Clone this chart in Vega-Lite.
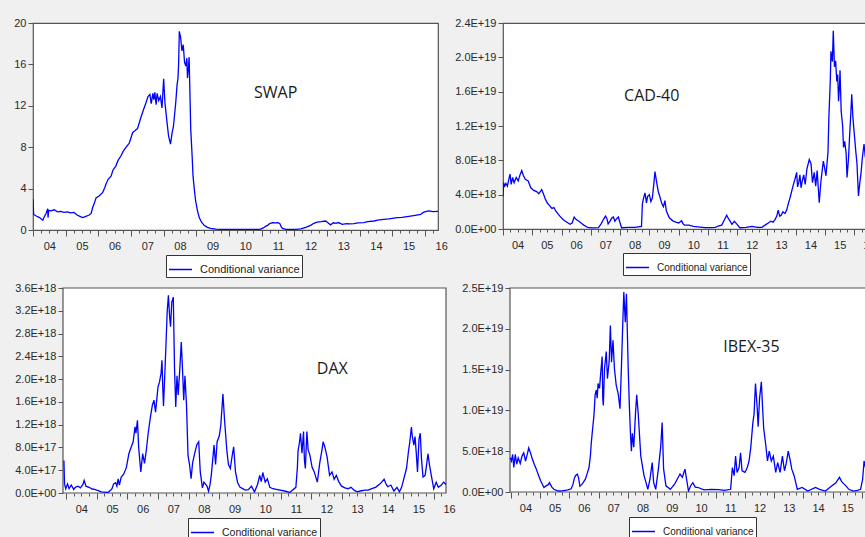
{
  "$schema": "https://vega.github.io/schema/vega-lite/v6.json",
  "padding": {"left": 13, "top": 16, "right": 0, "bottom": 0},
  "background": "#f0f0f0",
  "columns": 2,
  "align": "each",
  "spacing": {"row": 3, "column": -2},
  "resolve": {"scale": {"color": "independent"}, "legend": {"color": "independent"}},
  "datasets": {
    "swap": [
      {"t":2004.0,"v":3.0},{"t":2004.02,"v":1.5},{"t":2004.1,"v":1.35},{"t":2004.2,"v":1.2},{"t":2004.3,"v":0.95},{"t":2004.35,"v":1.3},{"t":2004.4,"v":1.6},{"t":2004.45,"v":2.05},{"t":2004.46,"v":1.2},{"t":2004.48,"v":1.9},{"t":2004.55,"v":1.85},{"t":2004.65,"v":1.95},{"t":2004.75,"v":1.75},{"t":2004.85,"v":1.8},{"t":2004.95,"v":1.7},{"t":2005.05,"v":1.75},{"t":2005.15,"v":1.65},{"t":2005.25,"v":1.7},{"t":2005.35,"v":1.45},{"t":2005.45,"v":1.3},{"t":2005.52,"v":1.2},{"t":2005.6,"v":1.3},{"t":2005.72,"v":1.45},{"t":2005.78,"v":1.6},{"t":2005.82,"v":2.1},{"t":2005.88,"v":2.6},{"t":2005.93,"v":3.1},{"t":2006.03,"v":3.3},{"t":2006.13,"v":3.6},{"t":2006.2,"v":4.1},{"t":2006.23,"v":4.4},{"t":2006.3,"v":4.9},{"t":2006.39,"v":5.2},{"t":2006.45,"v":5.8},{"t":2006.54,"v":6.2},{"t":2006.6,"v":6.7},{"t":2006.69,"v":7.15},{"t":2006.76,"v":7.6},{"t":2006.84,"v":7.95},{"t":2006.9,"v":8.2},{"t":2006.95,"v":8.4},{"t":2007.05,"v":9.4},{"t":2007.12,"v":9.6},{"t":2007.2,"v":9.8},{"t":2007.3,"v":10.85},{"t":2007.38,"v":11.6},{"t":2007.46,"v":12.3},{"t":2007.52,"v":12.9},{"t":2007.58,"v":13.1},{"t":2007.62,"v":12.2},{"t":2007.67,"v":13.2},{"t":2007.7,"v":12.6},{"t":2007.73,"v":13.3},{"t":2007.77,"v":12.1},{"t":2007.8,"v":13.2},{"t":2007.85,"v":12.5},{"t":2007.9,"v":12.9},{"t":2007.95,"v":11.8},{"t":2008.0,"v":14.6},{"t":2008.04,"v":12.3},{"t":2008.1,"v":10.5},{"t":2008.15,"v":9.1},{"t":2008.21,"v":8.3},{"t":2008.26,"v":9.4},{"t":2008.3,"v":10.0},{"t":2008.37,"v":12.3},{"t":2008.41,"v":14.0},{"t":2008.44,"v":14.7},{"t":2008.46,"v":16.2},{"t":2008.48,"v":19.2},{"t":2008.52,"v":18.6},{"t":2008.56,"v":17.3},{"t":2008.6,"v":17.9},{"t":2008.64,"v":16.2},{"t":2008.68,"v":15.85},{"t":2008.71,"v":16.6},{"t":2008.73,"v":14.7},{"t":2008.76,"v":15.7},{"t":2008.78,"v":16.7},{"t":2008.81,"v":12.5},{"t":2008.83,"v":9.7},{"t":2008.87,"v":7.3},{"t":2008.9,"v":5.2},{"t":2008.94,"v":3.9},{"t":2008.98,"v":2.8},{"t":2009.04,"v":1.8},{"t":2009.09,"v":1.2},{"t":2009.16,"v":0.75},{"t":2009.24,"v":0.45},{"t":2009.34,"v":0.25},{"t":2009.44,"v":0.16},{"t":2009.6,"v":0.08},{"t":2009.8,"v":0.05},{"t":2010.2,"v":0.05},{"t":2010.6,"v":0.05},{"t":2010.95,"v":0.07},{"t":2011.05,"v":0.2},{"t":2011.12,"v":0.35},{"t":2011.18,"v":0.45},{"t":2011.25,"v":0.62},{"t":2011.33,"v":0.72},{"t":2011.42,"v":0.68},{"t":2011.5,"v":0.7},{"t":2011.56,"v":0.6},{"t":2011.6,"v":0.3},{"t":2011.64,"v":0.15},{"t":2011.75,"v":0.07},{"t":2011.9,"v":0.05},{"t":2012.05,"v":0.07},{"t":2012.2,"v":0.1},{"t":2012.35,"v":0.25},{"t":2012.5,"v":0.45},{"t":2012.6,"v":0.65},{"t":2012.7,"v":0.77},{"t":2012.82,"v":0.8},{"t":2012.96,"v":0.87},{"t":2013.03,"v":0.7},{"t":2013.11,"v":0.5},{"t":2013.2,"v":0.7},{"t":2013.28,"v":0.65},{"t":2013.35,"v":0.72},{"t":2013.47,"v":0.55},{"t":2013.6,"v":0.62},{"t":2013.7,"v":0.6},{"t":2013.83,"v":0.62},{"t":2013.95,"v":0.68},{"t":2014.13,"v":0.72},{"t":2014.25,"v":0.8},{"t":2014.44,"v":0.87},{"t":2014.55,"v":0.95},{"t":2014.74,"v":1.03},{"t":2014.9,"v":1.08},{"t":2015.15,"v":1.2},{"t":2015.3,"v":1.22},{"t":2015.45,"v":1.3},{"t":2015.56,"v":1.35},{"t":2015.7,"v":1.42},{"t":2015.87,"v":1.5},{"t":2015.95,"v":1.7},{"t":2016.05,"v":1.8},{"t":2016.12,"v":1.85},{"t":2016.25,"v":1.78},{"t":2016.4,"v":1.8}
    ],
    "cad": [
      {"t":2004.0,"v":3.8e18},{"t":2004.02,"v":5.4e18},{"t":2004.06,"v":5.0e18},{"t":2004.1,"v":5.3e18},{"t":2004.15,"v":5.0e18},{"t":2004.2,"v":5.8e18},{"t":2004.24,"v":6.4e18},{"t":2004.28,"v":5.2e18},{"t":2004.33,"v":6.0e18},{"t":2004.38,"v":5.4e18},{"t":2004.45,"v":6.0e18},{"t":2004.52,"v":5.6e18},{"t":2004.58,"v":6.3e18},{"t":2004.64,"v":6.8e18},{"t":2004.7,"v":6.2e18},{"t":2004.76,"v":5.8e18},{"t":2004.86,"v":5.6e18},{"t":2004.95,"v":4.8e18},{"t":2005.05,"v":4.5e18},{"t":2005.15,"v":4.35e18},{"t":2005.22,"v":4.1e18},{"t":2005.32,"v":4.6e18},{"t":2005.38,"v":4.1e18},{"t":2005.45,"v":3.45e18},{"t":2005.52,"v":3.0e18},{"t":2005.6,"v":2.7e18},{"t":2005.67,"v":2.4e18},{"t":2005.74,"v":2.5e18},{"t":2005.8,"v":2.1e18},{"t":2005.94,"v":1.5e18},{"t":2006.05,"v":1.1e18},{"t":2006.12,"v":0.93e18},{"t":2006.29,"v":0.55e18},{"t":2006.36,"v":0.7e18},{"t":2006.43,"v":1.4e18},{"t":2006.5,"v":1.1e18},{"t":2006.58,"v":0.93e18},{"t":2006.7,"v":0.6e18},{"t":2006.76,"v":0.45e18},{"t":2006.91,"v":0.15e18},{"t":2007.1,"v":0.12e18},{"t":2007.26,"v":0.15e18},{"t":2007.35,"v":0.6e18},{"t":2007.43,"v":1.1e18},{"t":2007.5,"v":1.5e18},{"t":2007.55,"v":1.2e18},{"t":2007.59,"v":0.6e18},{"t":2007.65,"v":0.9e18},{"t":2007.72,"v":1.3e18},{"t":2007.77,"v":1.4e18},{"t":2007.82,"v":0.9e18},{"t":2007.88,"v":1.2e18},{"t":2007.94,"v":1.4e18},{"t":2007.98,"v":0.9e18},{"t":2008.05,"v":0.15e18},{"t":2008.3,"v":0.18e18},{"t":2008.5,"v":0.2e18},{"t":2008.73,"v":0.3e18},{"t":2008.76,"v":2.9e18},{"t":2008.8,"v":3.6e18},{"t":2008.85,"v":4.2e18},{"t":2008.9,"v":3.05e18},{"t":2008.94,"v":3.8e18},{"t":2009.0,"v":4.0e18},{"t":2009.05,"v":3.2e18},{"t":2009.1,"v":3.6e18},{"t":2009.15,"v":5.2e18},{"t":2009.19,"v":6.7e18},{"t":2009.24,"v":5.6e18},{"t":2009.3,"v":4.4e18},{"t":2009.35,"v":3.85e18},{"t":2009.43,"v":2.9e18},{"t":2009.48,"v":2.6e18},{"t":2009.53,"v":3.3e18},{"t":2009.58,"v":2.1e18},{"t":2009.68,"v":1.3e18},{"t":2009.8,"v":0.95e18},{"t":2009.9,"v":0.8e18},{"t":2010.0,"v":0.7e18},{"t":2010.1,"v":0.95e18},{"t":2010.15,"v":0.6e18},{"t":2010.2,"v":0.45e18},{"t":2010.35,"v":0.45e18},{"t":2010.5,"v":0.3e18},{"t":2010.65,"v":0.25e18},{"t":2010.9,"v":0.15e18},{"t":2011.1,"v":0.15e18},{"t":2011.25,"v":0.2e18},{"t":2011.35,"v":0.35e18},{"t":2011.47,"v":0.45e18},{"t":2011.55,"v":1.0e18},{"t":2011.64,"v":1.6e18},{"t":2011.7,"v":1.2e18},{"t":2011.75,"v":0.95e18},{"t":2011.82,"v":0.55e18},{"t":2011.9,"v":0.9e18},{"t":2011.98,"v":0.6e18},{"t":2012.09,"v":0.15e18},{"t":2012.3,"v":0.2e18},{"t":2012.5,"v":0.3e18},{"t":2012.7,"v":0.2e18},{"t":2012.84,"v":0.2e18},{"t":2012.95,"v":0.45e18},{"t":2013.06,"v":0.7e18},{"t":2013.15,"v":0.9e18},{"t":2013.22,"v":0.8e18},{"t":2013.29,"v":1.1e18},{"t":2013.35,"v":1.5e18},{"t":2013.4,"v":2.2e18},{"t":2013.45,"v":1.5e18},{"t":2013.5,"v":1.6e18},{"t":2013.56,"v":2.0e18},{"t":2013.63,"v":1.8e18},{"t":2013.69,"v":2.2e18},{"t":2013.74,"v":2.9e18},{"t":2013.8,"v":3.6e18},{"t":2013.86,"v":4.4e18},{"t":2013.92,"v":5.2e18},{"t":2013.97,"v":5.8e18},{"t":2014.03,"v":6.6e18},{"t":2014.06,"v":4.9e18},{"t":2014.1,"v":5.4e18},{"t":2014.14,"v":6.3e18},{"t":2014.18,"v":4.8e18},{"t":2014.22,"v":5.6e18},{"t":2014.27,"v":6.3e18},{"t":2014.32,"v":5.2e18},{"t":2014.38,"v":7.0e18},{"t":2014.46,"v":8.1e18},{"t":2014.52,"v":7.6e18},{"t":2014.57,"v":5.4e18},{"t":2014.63,"v":6.6e18},{"t":2014.68,"v":5.0e18},{"t":2014.73,"v":6.8e18},{"t":2014.8,"v":3.06e18},{"t":2014.86,"v":5.6e18},{"t":2014.94,"v":7.9e18},{"t":2014.98,"v":7.2e18},{"t":2015.03,"v":6.2e18},{"t":2015.1,"v":9.0e18},{"t":2015.13,"v":13.0e18},{"t":2015.18,"v":17.5e18},{"t":2015.2,"v":20.7e18},{"t":2015.25,"v":19.5e18},{"t":2015.28,"v":23.1e18},{"t":2015.32,"v":18.9e18},{"t":2015.36,"v":19.6e18},{"t":2015.4,"v":17.2e18},{"t":2015.43,"v":18.0e18},{"t":2015.46,"v":14.9e18},{"t":2015.49,"v":16.5e18},{"t":2015.51,"v":18.5e18},{"t":2015.55,"v":13.7e18},{"t":2015.6,"v":12.0e18},{"t":2015.63,"v":9.5e18},{"t":2015.67,"v":10.2e18},{"t":2015.72,"v":8.8e18},{"t":2015.75,"v":6.0e18},{"t":2015.8,"v":8.2e18},{"t":2015.84,"v":11.0e18},{"t":2015.88,"v":13.5e18},{"t":2015.91,"v":15.7e18},{"t":2015.95,"v":13.0e18},{"t":2016.0,"v":11.0e18},{"t":2016.05,"v":9.0e18},{"t":2016.09,"v":7.6e18},{"t":2016.14,"v":3.85e18},{"t":2016.18,"v":5.2e18},{"t":2016.23,"v":6.6e18},{"t":2016.27,"v":8.2e18},{"t":2016.33,"v":9.9e18},{"t":2016.37,"v":8.5e18},{"t":2016.42,"v":7.6e18}
    ],
    "dax": [
      {"t":2003.93,"v":5.7e17},{"t":2003.95,"v":1.6e17},{"t":2003.99,"v":0.75e17},{"t":2004.05,"v":1.6e17},{"t":2004.1,"v":0.75e17},{"t":2004.17,"v":1.4e17},{"t":2004.25,"v":0.6e17},{"t":2004.3,"v":1.0e17},{"t":2004.39,"v":1.2e17},{"t":2004.47,"v":0.9e17},{"t":2004.55,"v":1.5e17},{"t":2004.59,"v":2.2e17},{"t":2004.65,"v":1.2e17},{"t":2004.75,"v":1.0e17},{"t":2004.85,"v":0.7e17},{"t":2004.93,"v":0.65e17},{"t":2005.05,"v":0.4e17},{"t":2005.15,"v":0.2e17},{"t":2005.37,"v":0.1e17},{"t":2005.45,"v":0.5e17},{"t":2005.5,"v":0.75e17},{"t":2005.55,"v":1.6e17},{"t":2005.62,"v":1.8e17},{"t":2005.66,"v":1.2e17},{"t":2005.7,"v":2.5e17},{"t":2005.74,"v":1.4e17},{"t":2005.8,"v":2.8e17},{"t":2005.88,"v":3.3e17},{"t":2005.97,"v":4.5e17},{"t":2006.05,"v":6.9e17},{"t":2006.12,"v":8.0e17},{"t":2006.19,"v":9.0e17},{"t":2006.25,"v":11.6e17},{"t":2006.28,"v":10.5e17},{"t":2006.33,"v":12.75e17},{"t":2006.37,"v":8.0e17},{"t":2006.41,"v":5.5e17},{"t":2006.44,"v":3.7e17},{"t":2006.5,"v":6.9e17},{"t":2006.56,"v":5.2e17},{"t":2006.62,"v":7.5e17},{"t":2006.68,"v":10.5e17},{"t":2006.76,"v":13.6e17},{"t":2006.82,"v":15.5e17},{"t":2006.87,"v":16.3e17},{"t":2006.92,"v":14.2e17},{"t":2007.0,"v":18.6e17},{"t":2007.05,"v":19.5e17},{"t":2007.1,"v":21.0e17},{"t":2007.13,"v":23.3e17},{"t":2007.16,"v":18.0e17},{"t":2007.18,"v":15.3e17},{"t":2007.22,"v":20.5e17},{"t":2007.26,"v":25.9e17},{"t":2007.3,"v":31.8e17},{"t":2007.34,"v":34.7e17},{"t":2007.38,"v":31.0e17},{"t":2007.41,"v":29.2e17},{"t":2007.45,"v":33.5e17},{"t":2007.5,"v":34.4e17},{"t":2007.52,"v":28.0e17},{"t":2007.54,"v":21.8e17},{"t":2007.58,"v":15.1e17},{"t":2007.62,"v":20.6e17},{"t":2007.66,"v":17.2e17},{"t":2007.72,"v":22.5e17},{"t":2007.76,"v":26.5e17},{"t":2007.8,"v":21.8e17},{"t":2007.84,"v":16.3e17},{"t":2007.88,"v":20.6e17},{"t":2007.93,"v":15.5e17},{"t":2007.98,"v":6.6e17},{"t":2008.03,"v":5.0e17},{"t":2008.08,"v":2.5e17},{"t":2008.13,"v":5.3e17},{"t":2008.2,"v":7.0e17},{"t":2008.27,"v":8.5e17},{"t":2008.33,"v":9.0e17},{"t":2008.38,"v":3.7e17},{"t":2008.45,"v":0.9e17},{"t":2008.5,"v":1.9e17},{"t":2008.6,"v":1.2e17},{"t":2008.65,"v":0.3e17},{"t":2008.7,"v":1.5e17},{"t":2008.74,"v":3.1e17},{"t":2008.83,"v":8.4e17},{"t":2008.88,"v":5.0e17},{"t":2008.93,"v":9.0e17},{"t":2009.0,"v":10.0e17},{"t":2009.05,"v":11.9e17},{"t":2009.12,"v":17.4e17},{"t":2009.17,"v":13.0e17},{"t":2009.25,"v":7.3e17},{"t":2009.3,"v":5.0e17},{"t":2009.36,"v":4.3e17},{"t":2009.42,"v":6.5e17},{"t":2009.47,"v":8.1e17},{"t":2009.53,"v":3.7e17},{"t":2009.6,"v":1.8e17},{"t":2009.68,"v":1.0e17},{"t":2009.75,"v":0.8e17},{"t":2009.85,"v":0.5e17},{"t":2009.95,"v":0.6e17},{"t":2010.05,"v":1.2e17},{"t":2010.15,"v":0.2e17},{"t":2010.25,"v":1.5e17},{"t":2010.32,"v":3.1e17},{"t":2010.37,"v":2.0e17},{"t":2010.42,"v":3.6e17},{"t":2010.5,"v":1.9e17},{"t":2010.57,"v":2.5e17},{"t":2010.65,"v":1.0e17},{"t":2010.75,"v":0.75e17},{"t":2010.9,"v":0.6e17},{"t":2011.13,"v":0.35e17},{"t":2011.3,"v":0.1e17},{"t":2011.5,"v":1.0e17},{"t":2011.55,"v":4.5e17},{"t":2011.57,"v":7.3e17},{"t":2011.62,"v":9.0e17},{"t":2011.65,"v":10.5e17},{"t":2011.7,"v":7.0e17},{"t":2011.75,"v":10.8e17},{"t":2011.78,"v":5.7e17},{"t":2011.81,"v":4.3e17},{"t":2011.86,"v":10.8e17},{"t":2011.9,"v":7.6e17},{"t":2011.96,"v":6.6e17},{"t":2012.03,"v":4.5e17},{"t":2012.1,"v":3.7e17},{"t":2012.2,"v":1.9e17},{"t":2012.28,"v":5.3e17},{"t":2012.35,"v":7.5e17},{"t":2012.39,"v":9.0e17},{"t":2012.45,"v":8.0e17},{"t":2012.52,"v":6.3e17},{"t":2012.6,"v":3.1e17},{"t":2012.68,"v":3.7e17},{"t":2012.75,"v":2.4e17},{"t":2012.82,"v":3.1e17},{"t":2012.9,"v":2.0e17},{"t":2012.99,"v":1.2e17},{"t":2013.1,"v":0.9e17},{"t":2013.2,"v":0.75e17},{"t":2013.3,"v":1.0e17},{"t":2013.4,"v":0.5e17},{"t":2013.5,"v":0.2e17},{"t":2013.6,"v":0.35e17},{"t":2013.75,"v":0.5e17},{"t":2013.86,"v":0.5e17},{"t":2014.0,"v":0.8e17},{"t":2014.1,"v":1.0e17},{"t":2014.25,"v":1.6e17},{"t":2014.38,"v":2.4e17},{"t":2014.45,"v":1.5e17},{"t":2014.5,"v":1.1e17},{"t":2014.6,"v":1.4e17},{"t":2014.7,"v":0.35e17},{"t":2014.8,"v":1.0e17},{"t":2014.88,"v":0.2e17},{"t":2014.95,"v":1.0e17},{"t":2015.0,"v":2.0e17},{"t":2015.11,"v":4.3e17},{"t":2015.18,"v":7.5e17},{"t":2015.22,"v":9.0e17},{"t":2015.27,"v":11.6e17},{"t":2015.3,"v":10.0e17},{"t":2015.35,"v":8.4e17},{"t":2015.39,"v":9.9e17},{"t":2015.43,"v":7.0e17},{"t":2015.47,"v":3.7e17},{"t":2015.52,"v":9.5e17},{"t":2015.56,"v":10.5e17},{"t":2015.6,"v":6.0e17},{"t":2015.65,"v":2.8e17},{"t":2015.72,"v":3.1e17},{"t":2015.78,"v":5.5e17},{"t":2015.81,"v":6.9e17},{"t":2015.86,"v":5.0e17},{"t":2015.92,"v":3.1e17},{"t":2016.0,"v":0.75e17},{"t":2016.08,"v":1.9e17},{"t":2016.15,"v":1.0e17},{"t":2016.25,"v":1.4e17},{"t":2016.32,"v":1.9e17},{"t":2016.4,"v":1.5e17}
    ],
    "ibex": [
      {"t":2003.98,"v":4.2e18},{"t":2004.02,"v":3.8e18},{"t":2004.06,"v":4.6e18},{"t":2004.1,"v":3.0e18},{"t":2004.15,"v":4.6e18},{"t":2004.2,"v":3.4e18},{"t":2004.25,"v":4.2e18},{"t":2004.32,"v":3.5e18},{"t":2004.38,"v":4.4e18},{"t":2004.44,"v":4.8e18},{"t":2004.5,"v":3.8e18},{"t":2004.56,"v":4.6e18},{"t":2004.61,"v":5.4e18},{"t":2004.67,"v":4.8e18},{"t":2004.72,"v":4.2e18},{"t":2004.8,"v":3.4e18},{"t":2004.87,"v":2.8e18},{"t":2004.95,"v":2.0e18},{"t":2005.02,"v":1.35e18},{"t":2005.13,"v":0.55e18},{"t":2005.2,"v":0.75e18},{"t":2005.28,"v":0.9e18},{"t":2005.32,"v":1.15e18},{"t":2005.4,"v":0.6e18},{"t":2005.47,"v":0.33e18},{"t":2005.6,"v":0.15e18},{"t":2005.7,"v":0.12e18},{"t":2005.85,"v":0.2e18},{"t":2005.95,"v":0.25e18},{"t":2006.06,"v":0.4e18},{"t":2006.12,"v":0.9e18},{"t":2006.17,"v":1.7e18},{"t":2006.21,"v":2.0e18},{"t":2006.27,"v":2.2e18},{"t":2006.31,"v":1.8e18},{"t":2006.36,"v":0.7e18},{"t":2006.42,"v":0.9e18},{"t":2006.47,"v":1.15e18},{"t":2006.55,"v":1.6e18},{"t":2006.62,"v":2.4e18},{"t":2006.67,"v":3.0e18},{"t":2006.72,"v":4.5e18},{"t":2006.75,"v":6.1e18},{"t":2006.8,"v":8.0e18},{"t":2006.84,"v":9.4e18},{"t":2006.88,"v":11.9e18},{"t":2006.92,"v":12.5e18},{"t":2006.95,"v":11.5e18},{"t":2006.98,"v":13.3e18},{"t":2007.03,"v":12.7e18},{"t":2007.08,"v":15.0e18},{"t":2007.12,"v":16.6e18},{"t":2007.14,"v":11.5e18},{"t":2007.16,"v":10.6e18},{"t":2007.2,"v":15.1e18},{"t":2007.26,"v":17.2e18},{"t":2007.3,"v":13.9e18},{"t":2007.36,"v":16.0e18},{"t":2007.4,"v":20.4e18},{"t":2007.44,"v":15.9e18},{"t":2007.49,"v":18.6e18},{"t":2007.54,"v":15.1e18},{"t":2007.6,"v":13.1e18},{"t":2007.67,"v":12.0e18},{"t":2007.73,"v":10.2e18},{"t":2007.78,"v":15.5e18},{"t":2007.82,"v":20.2e18},{"t":2007.86,"v":24.5e18},{"t":2007.91,"v":20.8e18},{"t":2007.95,"v":24.3e18},{"t":2008.01,"v":15.1e18},{"t":2008.05,"v":10.5e18},{"t":2008.09,"v":6.9e18},{"t":2008.12,"v":5.0e18},{"t":2008.15,"v":7.2e18},{"t":2008.2,"v":5.5e18},{"t":2008.26,"v":9.7e18},{"t":2008.3,"v":11.9e18},{"t":2008.35,"v":9.7e18},{"t":2008.44,"v":4.4e18},{"t":2008.55,"v":2.0e18},{"t":2008.62,"v":1.15e18},{"t":2008.68,"v":0.33e18},{"t":2008.75,"v":1.5e18},{"t":2008.83,"v":3.6e18},{"t":2008.88,"v":1.15e18},{"t":2008.95,"v":0.33e18},{"t":2009.04,"v":2.8e18},{"t":2009.12,"v":5.5e18},{"t":2009.17,"v":8.5e18},{"t":2009.22,"v":2.8e18},{"t":2009.3,"v":0.75e18},{"t":2009.45,"v":0.33e18},{"t":2009.6,"v":1.0e18},{"t":2009.69,"v":1.6e18},{"t":2009.78,"v":2.2e18},{"t":2009.86,"v":1.8e18},{"t":2009.95,"v":2.8e18},{"t":2010.07,"v":0.12e18},{"t":2010.15,"v":0.8e18},{"t":2010.22,"v":1.15e18},{"t":2010.3,"v":0.6e18},{"t":2010.4,"v":0.55e18},{"t":2010.6,"v":0.25e18},{"t":2010.85,"v":0.33e18},{"t":2011.1,"v":0.3e18},{"t":2011.3,"v":0.2e18},{"t":2011.51,"v":0.33e18},{"t":2011.57,"v":3.0e18},{"t":2011.63,"v":2.0e18},{"t":2011.68,"v":4.4e18},{"t":2011.73,"v":2.4e18},{"t":2011.8,"v":3.0e18},{"t":2011.85,"v":4.8e18},{"t":2011.9,"v":2.6e18},{"t":2012.0,"v":2.4e18},{"t":2012.08,"v":3.0e18},{"t":2012.14,"v":3.8e18},{"t":2012.2,"v":5.5e18},{"t":2012.27,"v":8.5e18},{"t":2012.31,"v":9.5e18},{"t":2012.36,"v":13.3e18},{"t":2012.42,"v":10.2e18},{"t":2012.45,"v":8.0e18},{"t":2012.5,"v":11.5e18},{"t":2012.56,"v":13.5e18},{"t":2012.6,"v":10.5e18},{"t":2012.64,"v":7.8e18},{"t":2012.7,"v":6.1e18},{"t":2012.77,"v":3.8e18},{"t":2012.83,"v":5.0e18},{"t":2012.9,"v":3.8e18},{"t":2012.97,"v":4.4e18},{"t":2013.05,"v":2.4e18},{"t":2013.12,"v":3.6e18},{"t":2013.2,"v":2.4e18},{"t":2013.28,"v":4.4e18},{"t":2013.35,"v":2.6e18},{"t":2013.41,"v":3.5e18},{"t":2013.48,"v":5.0e18},{"t":2013.55,"v":3.8e18},{"t":2013.6,"v":2.8e18},{"t":2013.68,"v":2.0e18},{"t":2013.79,"v":0.33e18},{"t":2013.95,"v":0.55e18},{"t":2014.15,"v":0.12e18},{"t":2014.41,"v":0.55e18},{"t":2014.55,"v":0.33e18},{"t":2014.75,"v":0.12e18},{"t":2014.95,"v":0.7e18},{"t":2015.1,"v":1.1e18},{"t":2015.23,"v":1.8e18},{"t":2015.3,"v":1.3e18},{"t":2015.38,"v":1.0e18},{"t":2015.45,"v":0.75e18},{"t":2015.55,"v":0.33e18},{"t":2015.7,"v":0.12e18},{"t":2015.85,"v":0.2e18},{"t":2015.95,"v":0.33e18},{"t":2016.02,"v":1.5e18},{"t":2016.07,"v":3.8e18},{"t":2016.12,"v":3.0e18},{"t":2016.16,"v":2.4e18},{"t":2016.25,"v":2.0e18},{"t":2016.32,"v":1.2e18},{"t":2016.4,"v":1.6e18}
    ]
  },
  "concat": [
    {
      "width": 405, "height": 207,
      "layer": [
        {
          "data": {"name": "swap"},
          "mark": {"type": "line", "strokeWidth": 1.3, "clip": true},
          "encoding": {
            "x": {"field": "t", "type": "quantitative", "scale": {"domain": [2004, 2016.4], "nice": false, "zero": false},
              "axis": {"orient": "bottom", "title": null, "values": [2004,2005,2006,2007,2008,2009,2010,2011,2012,2013,2014,2015,2016], "labelExpr": "format(datum.value % 100, '02d')", "labelOffset": 16.3, "tickSize": 6, "labelPadding": 4, "labelFlush": false, "labelOverlap": false, "tickCount": 60}},
            "y": {"field": "v", "type": "quantitative", "scale": {"domain": [0, 20], "nice": false},
              "axis": {"title": null, "values": [0,4,8,12,16,20], "format": ".0f", "labelOverlap": false, "tickCount": 60}},
            "color": {"datum": "Conditional variance", "type": "nominal", "scale": {"range": ["#0000ff"]},
              "legend": {"orient": "none", "legendX": 133, "legendY": 232, "labelFontSize": 11}}
          }
        },
        {
          "data": {"name": "swap"},
          "mark": {"type": "line", "opacity": 0, "clip": true},
          "encoding": {
            "x": {"field": "t", "type": "quantitative",
              "axis": {"orient": "bottom", "title": null, "labels": false, "tickSize": 3, "tickCount": 60, "values": [2004.25,2004.5,2004.75,2005.25,2005.5,2005.75,2006.25,2006.5,2006.75,2007.25,2007.5,2007.75,2008.25,2008.5,2008.75,2009.25,2009.5,2009.75,2010.25,2010.5,2010.75,2011.25,2011.5,2011.75,2012.25,2012.5,2012.75,2013.25,2013.5,2013.75,2014.25,2014.5,2014.75,2015.25,2015.5,2015.75,2016.25]}},
            "y": {"field": "v", "type": "quantitative"}
          }
        },
        {
          "data": {"values": [{}]},
          "mark": {"type": "text", "font": "Open Sans", "fontSize": 16, "color": "#1a1a1a"},
          "encoding": {
            "x": {"datum": 2011.43, "type": "quantitative", "axis": null},
            "y": {"datum": 13.24, "type": "quantitative"},
            "text": {"value": "SWAP"}
          }
        }
      ],
      "resolve": {"axis": {"x": "independent"}}
    },
    {
      "width": 366, "height": 206,
      "layer": [
        {
          "data": {"name": "cad"},
          "mark": {"type": "line", "strokeWidth": 1.3, "clip": true},
          "encoding": {
            "x": {"field": "t", "type": "quantitative", "scale": {"domain": [2004, 2016.5], "nice": false, "zero": false},
              "axis": {"orient": "bottom", "title": null, "values": [2004,2005,2006,2007,2008,2009,2010,2011,2012,2013,2014,2015,2016], "labelExpr": "format(datum.value % 100, '02d')", "labelOffset": 14.6, "tickSize": 6, "labelPadding": 4, "labelFlush": false, "labelOverlap": false, "tickCount": 60}},
            "y": {"field": "v", "type": "quantitative", "scale": {"domain": [0, 2.4e19], "nice": false},
              "axis": {"title": null, "values": [0,4e18,8e18,1.2e19,1.6e19,2e19,2.4e19], "labelOverlap": false, "tickCount": 60, "labelExpr": "datum.value == 0 ? '0.0E+00' : upper(format(datum.value, '.1e'))"}},
            "color": {"datum": "Conditional variance", "type": "nominal", "scale": {"range": ["#0000ff"]},
              "legend": {"orient": "none", "legendX": 120, "legendY": 230, "labelFontSize": 10}}
          }
        },
        {
          "data": {"name": "cad"},
          "mark": {"type": "line", "opacity": 0, "clip": true},
          "encoding": {
            "x": {"field": "t", "type": "quantitative",
              "axis": {"orient": "bottom", "title": null, "labels": false, "tickSize": 3, "tickCount": 60, "values": [2004.25,2004.5,2004.75,2005.25,2005.5,2005.75,2006.25,2006.5,2006.75,2007.25,2007.5,2007.75,2008.25,2008.5,2008.75,2009.25,2009.5,2009.75,2010.25,2010.5,2010.75,2011.25,2011.5,2011.75,2012.25,2012.5,2012.75,2013.25,2013.5,2013.75,2014.25,2014.5,2014.75,2015.25,2015.5,2015.75,2016.25]}},
            "y": {"field": "v", "type": "quantitative"}
          }
        },
        {
          "data": {"values": [{}]},
          "mark": {"type": "text", "font": "Open Sans", "fontSize": 16, "color": "#1a1a1a"},
          "encoding": {
            "x": {"datum": 2009.08, "type": "quantitative", "axis": null},
            "y": {"datum": 1.55e19, "type": "quantitative"},
            "text": {"value": "CAD-40"}
          }
        }
      ],
      "resolve": {"axis": {"x": "independent"}}
    },
    {
      "width": 413, "height": 205,
      "view": {"fill": null, "stroke": null},
      "layer": [
        {
          "data": {"values": [{}]},
          "mark": {"type": "rect", "fill": "white", "stroke": "#555555", "strokeWidth": 1.2},
          "encoding": {
            "x": {"datum": 2003.9, "type": "quantitative", "axis": null},
            "x2": {"datum": 2016.4},
            "y": {"datum": 0, "type": "quantitative"},
            "y2": {"datum": 3.6e18}
          }
        },
        {
          "data": {"name": "dax"},
          "mark": {"type": "line", "strokeWidth": 1.3, "clip": true},
          "encoding": {
            "x": {"field": "t", "type": "quantitative", "scale": {"domain": [2002.921, 2016.4], "nice": false, "zero": false},
              "axis": {"orient": "bottom", "title": null, "values": [2004,2005,2006,2007,2008,2009,2010,2011,2012,2013,2014,2015,2016], "labelExpr": "format(datum.value % 100, '02d')", "labelOffset": 15.3, "tickSize": 6, "labelPadding": 4, "labelFlush": false, "labelOverlap": false, "tickCount": 60}},
            "y": {"field": "v", "type": "quantitative", "scale": {"domain": [0, 3.6e18], "nice": false},
              "axis": {"title": null, "offset": -30, "values": [0,4e17,8e17,1.2e18,1.6e18,2e18,2.4e18,2.8e18,3.2e18,3.6e18], "labelOverlap": false, "tickCount": 60, "labelExpr": "datum.value == 0 ? '0.0E+00' : upper(format(datum.value, '.1e'))"}},
            "color": {"datum": "Conditional variance", "type": "nominal", "scale": {"range": ["#0000ff"]},
              "legend": {"orient": "none", "legendX": 155, "legendY": 230, "labelFontSize": 10.5}}
          }
        },
        {
          "data": {"name": "dax"},
          "mark": {"type": "line", "opacity": 0, "clip": true},
          "encoding": {
            "x": {"field": "t", "type": "quantitative",
              "axis": {"orient": "bottom", "title": null, "labels": false, "tickSize": 3, "tickCount": 60, "values": [2004.25,2004.5,2004.75,2005.25,2005.5,2005.75,2006.25,2006.5,2006.75,2007.25,2007.5,2007.75,2008.25,2008.5,2008.75,2009.25,2009.5,2009.75,2010.25,2010.5,2010.75,2011.25,2011.5,2011.75,2012.25,2012.5,2012.75,2013.25,2013.5,2013.75,2014.25,2014.5,2014.75,2015.25,2015.5,2015.75,2016.25]}},
            "y": {"field": "v", "type": "quantitative"}
          }
        },
        {
          "data": {"values": [{}]},
          "mark": {"type": "text", "font": "Open Sans", "fontSize": 16, "color": "#1a1a1a"},
          "encoding": {
            "x": {"datum": 2012.69, "type": "quantitative", "axis": null},
            "y": {"datum": 2.18e18, "type": "quantitative"},
            "text": {"value": "DAX"}
          }
        }
      ],
      "resolve": {"axis": {"x": "independent"}}
    },
    {
      "width": 371, "height": 204,
      "view": {"fill": null, "stroke": null},
      "layer": [
        {
          "data": {"values": [{}]},
          "mark": {"type": "rect", "fill": "white", "stroke": "#555555", "strokeWidth": 1.2},
          "encoding": {
            "x": {"datum": 2003.97, "type": "quantitative", "axis": null},
            "x2": {"datum": 2016.41},
            "y": {"datum": 0, "type": "quantitative"},
            "y2": {"datum": 2.5e19}
          }
        },
        {
          "data": {"name": "ibex"},
          "mark": {"type": "line", "strokeWidth": 1.3, "clip": true},
          "encoding": {
            "x": {"field": "t", "type": "quantitative", "scale": {"domain": [2003.731, 2016.41], "nice": false, "zero": false},
              "axis": {"orient": "bottom", "title": null, "values": [2004,2005,2006,2007,2008,2009,2010,2011,2012,2013,2014,2015,2016], "labelExpr": "format(datum.value % 100, '02d')", "labelOffset": 14.6, "tickSize": 6, "labelPadding": 4, "labelFlush": false, "labelOverlap": false, "tickCount": 60}},
            "y": {"field": "v", "type": "quantitative", "scale": {"domain": [0, 2.5e19], "nice": false},
              "axis": {"title": null, "offset": -7, "values": [0,5e18,1e19,1.5e19,2e19,2.5e19], "labelOverlap": false, "tickCount": 60, "labelExpr": "datum.value == 0 ? '0.0E+00' : upper(format(datum.value, '.1e'))"}},
            "color": {"datum": "Conditional variance", "type": "nominal", "scale": {"range": ["#0000ff"]},
              "legend": {"orient": "none", "legendX": 126, "legendY": 229, "labelFontSize": 10}}
          }
        },
        {
          "data": {"name": "ibex"},
          "mark": {"type": "line", "opacity": 0, "clip": true},
          "encoding": {
            "x": {"field": "t", "type": "quantitative",
              "axis": {"orient": "bottom", "title": null, "labels": false, "tickSize": 3, "tickCount": 60, "values": [2004.25,2004.5,2004.75,2005.25,2005.5,2005.75,2006.25,2006.5,2006.75,2007.25,2007.5,2007.75,2008.25,2008.5,2008.75,2009.25,2009.5,2009.75,2010.25,2010.5,2010.75,2011.25,2011.5,2011.75,2012.25,2012.5,2012.75,2013.25,2013.5,2013.75,2014.25,2014.5,2014.75,2015.25,2015.5,2015.75,2016.25]}},
            "y": {"field": "v", "type": "quantitative"}
          }
        },
        {
          "data": {"values": [{}]},
          "mark": {"type": "text", "font": "Open Sans", "fontSize": 16, "color": "#1a1a1a"},
          "encoding": {
            "x": {"datum": 2012.22, "type": "quantitative", "axis": null},
            "y": {"datum": 1.78e19, "type": "quantitative"},
            "text": {"value": "IBEX-35"}
          }
        }
      ],
      "resolve": {"axis": {"x": "independent"}}
    }
  ],
  "config": {
    "view": {"fill": "white", "stroke": "#555555", "strokeWidth": 1.2},
    "axis": {"labelFont": "Liberation Sans", "labelFontSize": 11, "labelColor": "#2a2a2a", "tickColor": "#555555", "tickSize": 5, "labelPadding": 2, "grid": false, "domain": false},
    "legend": {"direction": "horizontal", "title": null, "strokeColor": "#333333", "fillColor": "white", "padding": 2, "symbolType": "stroke", "symbolSize": 529, "symbolStrokeWidth": 1.5, "labelFont": "Liberation Sans", "labelColor": "#222222", "labelOffset": 7}
  }
}
